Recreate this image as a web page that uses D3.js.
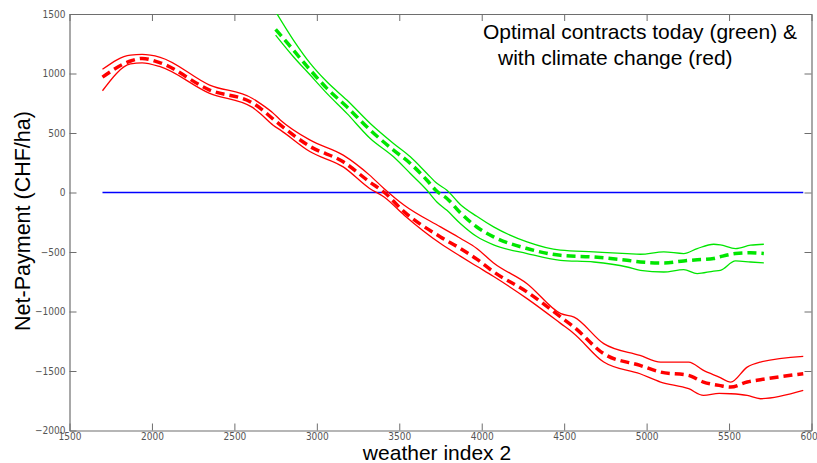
<!DOCTYPE html>
<html>
<head>
<meta charset="utf-8">
<script src="https://cdn.jsdelivr.net/npm/d3@7"></script>
<style>
  html, body { margin: 0; padding: 0; background: #fff; }
  svg { display: block; }
  .tick text { font-family: "Liberation Sans Narrow", "DejaVu Sans Condensed", "Liberation Sans", sans-serif; font-size: 10px; fill: #555; }
  .title { font-family: "Liberation Sans", Arial, sans-serif; fill: #000; }
</style>
</head>
<body>
<svg id="chart" width="817" height="463"></svg>
<script>
// Weather index 2 grid for the climate-change contract (red)
const redX = [1700, 1870, 1940, 2050, 2350, 2610, 2660, 2735, 2780, 2960, 3160, 3320, 3410, 3530, 3750, 3870, 3970, 4070, 4275, 4480, 4560, 4740, 4960, 5085, 5255, 5345, 5440, 5510, 5610, 5690, 5950];
const redUpper = [1035, 1155, 1160, 1136, 903, 790, 745, 667, 608, 440, 314, 146, 30, -107, -289, -385, -470, -590, -766, -1018, -1047, -1270, -1369, -1425, -1425, -1495, -1551, -1593, -1467, -1425, -1377];
const redMean  = [970, 1105, 1127, 1090, 861, 752, 705, 617, 566, 386, 258, 89, 0, -163, -373, -470, -560, -665, -836, -1047, -1131, -1355, -1453, -1509, -1537, -1593, -1621, -1635, -1593, -1573, -1523];
const redLower = [855, 1080, 1090, 1057, 833, 715, 660, 566, 524, 342, 215, 34, -40, -191, -429, -535, -620, -704, -892, -1102, -1186, -1425, -1523, -1593, -1649, -1705, -1688, -1691, -1705, -1733, -1663];

// Weather index 2 grid for today's contract (green)
const greenX = [2750, 2858, 2960, 3061, 3182, 3324, 3465, 3567, 3668, 3728, 3789, 3870, 3970, 4072, 4275, 4477, 4679, 4882, 4962, 5104, 5225, 5307, 5407, 5447, 5539, 5630, 5711];
const greenUpper = [1520, 1281, 1085, 930, 777, 580, 412, 300, 160, 77, 19, -100, -200, -289, -415, -485, -499, -513, -519, -499, -513, -471, -435, -440, -471, -443, -435];
const greenMean  = [1371, 1197, 1029, 875, 720, 524, 356, 244, 103, 10, -50, -170, -290, -373, -471, -528, -542, -570, -584, -592, -575, -565, -555, -540, -513, -507, -513];
const greenLower = [1323, 1141, 987, 833, 665, 454, 300, 160, 19, -80, -150, -260, -370, -440, -513, -570, -584, -626, -654, -668, -648, -682, -660, -654, -575, -584, -592];

// Break-even reference line
const zeroX = [1700, 5950];
const zeroY = [0, 0];

const xTicks = [1500, 2000, 2500, 3000, 3500, 4000, 4500, 5000, 5500, 6000];
const yTicks = [-2000, -1500, -1000, -500, 0, 500, 1000, 1500];

const svg = d3.select("#chart");
const plotLeft = 69.5, plotRight = 811.5, plotTop = 14, plotBottom = 430.5;

const x = d3.scaleLinear().domain([1500, 6000]).range([plotLeft, plotRight]);
const y = d3.scaleLinear().domain([-2000, 1500]).range([plotBottom, plotTop]);

svg.append("defs").append("clipPath").attr("id", "plot-clip")
  .append("rect").attr("x", plotLeft).attr("y", plotTop)
  .attr("width", plotRight - plotLeft).attr("height", plotBottom - plotTop);

const axisColor = "#6e6e6e";

function styleAxis(g) {
  g.select(".domain").attr("stroke", axisColor).attr("stroke-width", 1.2);
  g.selectAll(".tick line").attr("stroke", axisColor);
}

svg.append("g").attr("transform", `translate(0,${plotBottom})`)
  .call(d3.axisBottom(x).tickValues(xTicks).tickFormat(d3.format("d"))
    .tickSizeInner(-7).tickSizeOuter(0).tickPadding(2))
  .call(styleAxis);

svg.append("g").attr("transform", `translate(0,${plotTop})`)
  .call(d3.axisTop(x).tickValues(xTicks).tickFormat("")
    .tickSizeInner(-7).tickSizeOuter(0))
  .call(styleAxis);

svg.append("g").attr("transform", `translate(${plotLeft},0)`)
  .call(d3.axisLeft(y).tickValues(yTicks).tickFormat(d3.format("d"))
    .tickSizeInner(-7).tickSizeOuter(0).tickPadding(4))
  .call(styleAxis);

svg.append("g").attr("transform", `translate(${plotRight},0)`)
  .call(d3.axisRight(y).tickValues(yTicks).tickFormat("")
    .tickSizeInner(-7).tickSizeOuter(0))
  .call(styleAxis);

svg.selectAll(".tick text").attr("fill", "#555");

const plot = svg.append("g").attr("clip-path", "url(#plot-clip)");

const line = d3.line()
  .x(d => x(d[0]))
  .y(d => y(d[1]))
  .curve(d3.curveMonotoneX);

function draw(xs, ys, color, width, dash) {
  plot.append("path")
    .datum(xs.map((v, i) => [v, ys[i]]))
    .attr("d", line)
    .attr("fill", "none")
    .attr("stroke", color)
    .attr("stroke-width", width)
    .attr("stroke-linejoin", "round")
    .attr("stroke-dasharray", dash || null);
}

draw(zeroX, zeroY, "#0000ff", 1.4);

const red = "#ff0000", green = "#00e600";
draw(redX, redUpper, red, 1.3);
draw(redX, redLower, red, 1.3);
draw(redX, redMean, red, 3.5, "9,5");

draw(greenX, greenUpper, green, 1.3);
draw(greenX, greenLower, green, 1.3);
draw(greenX, greenMean, green, 3.5, "9,5");

// Titles
svg.append("text").attr("class", "title")
  .attr("x", 437).attr("y", 460)
  .attr("text-anchor", "middle").attr("font-size", 21)
  .text("weather index 2");

svg.append("text").attr("class", "title")
  .attr("transform", `translate(30,221) rotate(-90)`)
  .attr("text-anchor", "middle").attr("font-size", 21.5)
  .text("Net-Payment (CHF/ha)");

svg.append("text").attr("class", "title")
  .attr("x", 483).attr("y", 39).attr("font-size", 21)
  .text("Optimal contracts today (green) &");
svg.append("text").attr("class", "title")
  .attr("x", 498).attr("y", 65).attr("font-size", 21)
  .text("with climate change (red)");
</script>
</body>
</html>
